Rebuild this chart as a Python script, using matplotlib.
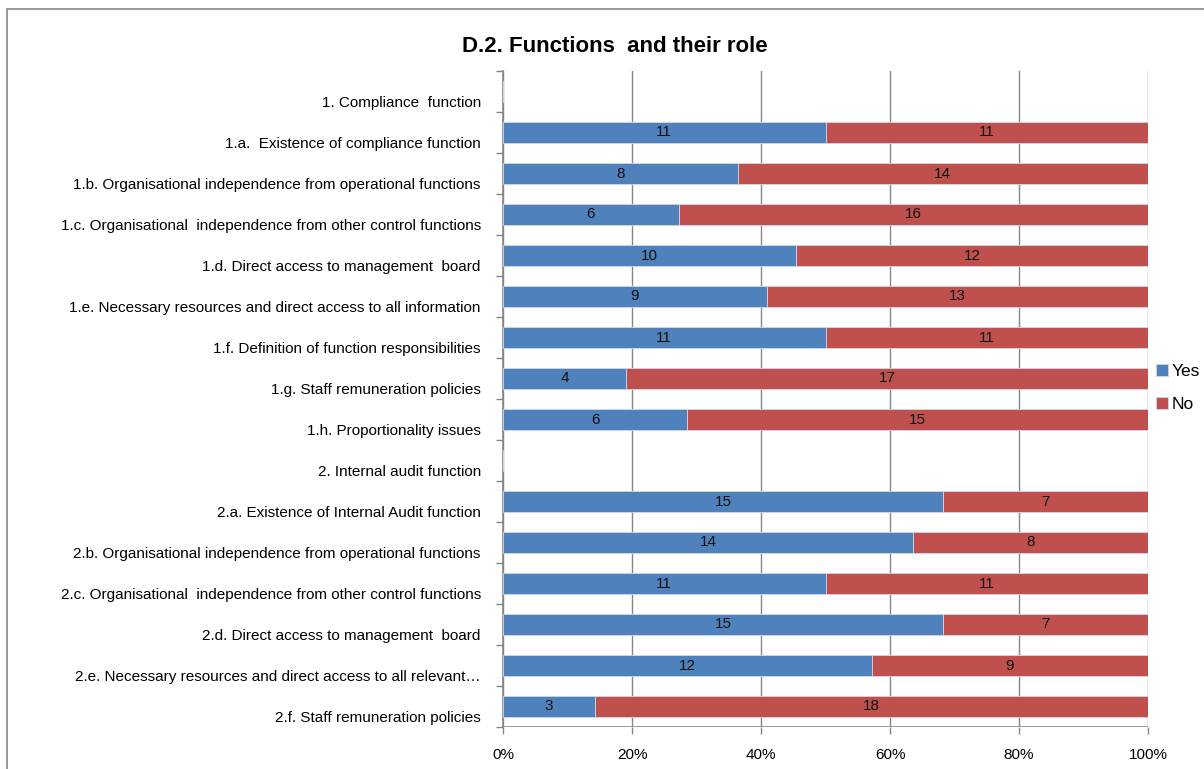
import numpy as np
import matplotlib

matplotlib.use("Agg")
import matplotlib.pyplot as plt
from matplotlib.patches import Rectangle
from matplotlib.ticker import FixedLocator, PercentFormatter
from matplotlib.transforms import ScaledTranslation

plt.rcParams["font.family"] = ["Liberation Sans Narrow", "Liberation Sans", "DejaVu Sans"]

categories = [
    "1. Compliance  function",
    "1.a.  Existence of compliance function",
    "1.b. Organisational independence from operational functions",
    "1.c. Organisational  independence from other control functions",
    "1.d. Direct access to management  board",
    "1.e. Necessary resources and direct access to all information",
    "1.f. Definition of function responsibilities",
    "1.g. Staff remuneration policies",
    "1.h. Proportionality issues",
    "2. Internal audit function",
    "2.a. Existence of Internal Audit function",
    "2.b. Organisational independence from operational functions",
    "2.c. Organisational  independence from other control functions",
    "2.d. Direct access to management  board",
    "2.e. Necessary resources and direct access to all relevant\u2026",
    "2.f. Staff remuneration policies",
]
yes = [0, 11, 8, 6, 10, 9, 11, 4, 6, 0, 15, 14, 11, 15, 12, 3]
no = [0, 11, 14, 16, 12, 13, 11, 17, 15, 0, 7, 8, 11, 7, 9, 18]

BLUE = "#4f81bd"
RED = "#c0504d"

yes = np.array(yes, dtype=float)
no = np.array(no, dtype=float)
tot = yes + no
safe = np.where(tot > 0, tot, 1)
yes_pct = np.where(tot > 0, yes / safe * 100, 0)
no_pct = np.where(tot > 0, no / safe * 100, 0)

fig = plt.figure(figsize=(12.04, 7.69), dpi=100)
ax = fig.add_axes([503 / 1204, 1 - 727 / 769, 645 / 1204, 656 / 769])

# outer chart frame
fig.patches.append(Rectangle((7 / 1204, -0.1), 1.2, 1 - 9 / 769 + 0.1,
                             transform=fig.transFigure, fill=False,
                             edgecolor="#868686", lw=1.2))

y = np.arange(len(categories))
bar_kw = dict(height=0.5, edgecolor="#d0d8e8", linewidth=0.6, zorder=3)
b1 = ax.barh(y, yes_pct, color=BLUE, label="Yes", **bar_kw)
b2 = ax.barh(y, no_pct, left=yes_pct, color=RED, label="No", **bar_kw)

for i in range(len(categories)):
    if yes[i] > 0:
        ax.text(yes_pct[i] / 2, y[i], f"{int(yes[i])}", ha="center", va="center",
                fontsize=11, color="#111111", zorder=4)
    if no[i] > 0:
        ax.text(yes_pct[i] + no_pct[i] / 2, y[i], f"{int(no[i])}", ha="center",
                va="center", fontsize=11, color="#111111", zorder=4)

ax.set_xlim(0, 100)
ax.set_ylim(len(categories) - 0.5, -0.5)
ax.set_xticks([0, 20, 40, 60, 80, 100])
ax.xaxis.set_major_formatter(PercentFormatter(decimals=0))
ax.set_yticks(y)
ax.set_yticklabels(categories, fontsize=11)
ax.yaxis.set_minor_locator(FixedLocator(np.arange(-0.5, len(categories), 1.0)))
ax.tick_params(axis="y", which="major", length=0, pad=16)
ax.tick_params(axis="y", which="minor", length=5, color="#868686", width=1)
ax.tick_params(axis="x", length=5, color="#868686", width=1, pad=10, labelsize=11)

# category labels sit a little below the bar centres
shift = ScaledTranslation(0, -10 / 100, fig.dpi_scale_trans)
for lbl in ax.get_yticklabels():
    lbl.set_transform(lbl.get_transform() + shift)

ax.grid(axis="x", color="#868686", lw=1, zorder=0)
for s in ["top", "right", "bottom"]:
    ax.spines[s].set_visible(False)
ax.spines["left"].set_color("#868686")
ax.spines["left"].set_linewidth(1.2)
ax.axhline(len(categories) - 0.5, color="#868686", lw=1.2, zorder=1)

fig.text(615 / 1204, 1 - 47 / 769, "D.2. Functions  and their role", ha="center",
         va="center", fontsize=16, fontweight="bold")

fig.legend(handles=[b1, b2], labels=["Yes", "No"], loc="center left",
           bbox_to_anchor=(1149 / 1204, 1 - 388 / 769), frameon=False,
           fontsize=12.5, handlelength=0.7, handleheight=0.7, handletextpad=0.2,
           labelspacing=1.0, borderaxespad=0)

fig.savefig("out.png", dpi=100)
